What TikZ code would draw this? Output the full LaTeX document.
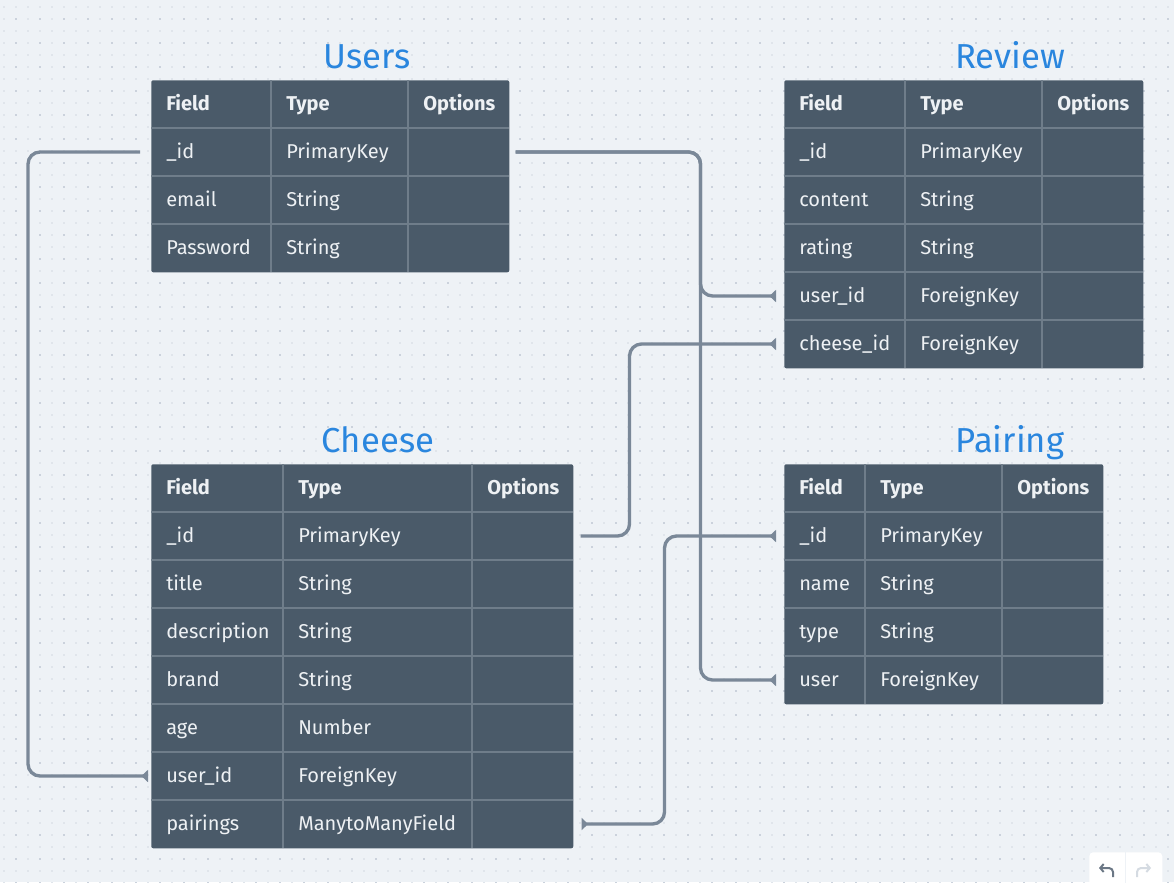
\documentclass[tikz,border=0pt]{standalone}
\usepackage{fontspec}
\setmainfont{Fira Sans}
\usetikzlibrary{arrows.meta,calc,positioning}
\definecolor{canvas}{HTML}{EEF2F6}
\definecolor{dotdark}{HTML}{CBD2DC}
\definecolor{dotlight}{HTML}{E0E5EB}
\definecolor{tablebg}{HTML}{4A5A69}
\definecolor{gridc}{HTML}{6F7D8A}
\definecolor{cellt}{HTML}{EEF1F4}
\definecolor{titlec}{HTML}{2A86DE}
\definecolor{linkc}{HTML}{7A8898}
\definecolor{iconc}{HTML}{6B7785}
\definecolor{iconoff}{HTML}{D5DBE2}
\tikzset{%
	table/.style = {fill=tablebg, rounded corners=1.5pt, anchor=north west, inner sep=0pt}, % table body
	rule/.style  = {draw=gridc, line width=1.5pt},
	head/.style  = {anchor=west, inner sep=0pt, text height=10.3pt, text depth=0pt, text=cellt, font=\bfseries\fontsize{15}{17}\selectfont},
	cell/.style  = {anchor=west, inner sep=0pt, text height=10.3pt, text depth=0pt, text=cellt, font=\fontsize{15}{17}\selectfont},
	title/.style = {inner sep=0pt, text height=17.9pt, text depth=0pt, text=titlec, font=\fontsize{26}{30}\selectfont},
	link/.style  = {draw=linkc, line width=2.5pt, rounded corners=9pt},
	crow/.style  = {-{Triangle[reversed,width=9pt,length=5pt]}},
	crows/.style = {{Triangle[reversed,width=9pt,length=5pt]}-{Triangle[reversed,width=9pt,length=5pt]}},
}

\begin{document}
\begin{tikzpicture}[x=0.75pt, y=-0.75pt]
	\useasboundingbox (0,0) rectangle (1174,882);
	\fill[canvas] (0,0) rectangle (1174,882);
	% dotted canvas
	\foreach \i in {0,...,97}
		\foreach \j in {0,...,73}
			\fill[dotlight] ({3+12*\i},{6+12*\j}) rectangle ++(2,2);
	\foreach \i in {0,...,48}
		\foreach \j in {0,...,36}
			\fill[dotdark] ({15+24*\i},{18+24*\j}) rectangle ++(2,2);

	% Users
	\node[title] (users-title) at (367,57) {Users};
	\node[table, minimum width=268.5pt, minimum height=144pt] (users) at (151,80) {};
	\foreach \y in {128,176,224} \draw[rule] (151,\y) -- (509,\y);
	\foreach \x in {271,408} \draw[rule] (\x,80) -- (\x,272);
	\node[head] (users-h1) at (166,104) {Field};
	\node[head] (users-h2) at (286,104) {Type};
	\node[head] (users-h3) at (423,104) {Options};
	\foreach \f/\t [count=\i] in {\_id/PrimaryKey, email/String, Password/String} {
		\node[cell] (users-f\i) at (166,{104+48*\i}) {\f};
		\node[cell] (users-t\i) at (286,{104+48*\i}) {\t};
	}

	% Review
	\node[title] (review-title) at (1010,57) {Review};
	\node[table, minimum width=269.25pt, minimum height=216pt] (review) at (784,80) {};
	\foreach \y in {128,176,224,272,320} \draw[rule] (784,\y) -- (1143,\y);
	\foreach \x in {905,1042} \draw[rule] (\x,80) -- (\x,368);
	\node[head] (review-h1) at (799,104) {Field};
	\node[head] (review-h2) at (920,104) {Type};
	\node[head] (review-h3) at (1057,104) {Options};
	\foreach \f/\t [count=\i] in {\_id/PrimaryKey, content/String, rating/String, user\_id/ForeignKey, cheese\_id/ForeignKey} {
		\node[cell] (review-f\i) at (799,{104+48*\i}) {\f};
		\node[cell] (review-t\i) at (920,{104+48*\i}) {\t};
	}

	% Cheese
	\node[title] (cheese-title) at (378,441) {Cheese};
	\node[table, minimum width=316.5pt, minimum height=288pt] (cheese) at (151,464) {};
	\foreach \y in {512,560,608,656,704,752,800} \draw[rule] (151,\y) -- (573,\y);
	\foreach \x in {283,472} \draw[rule] (\x,464) -- (\x,848);
	\node[head] (cheese-h1) at (166,488) {Field};
	\node[head] (cheese-h2) at (298,488) {Type};
	\node[head] (cheese-h3) at (487,488) {Options};
	\foreach \f/\t [count=\i] in {\_id/PrimaryKey, title/String, description/String, brand/String, age/Number, user\_id/ForeignKey, pairings/ManytoManyField} {
		\node[cell] (cheese-f\i) at (166,{488+48*\i}) {\f};
		\node[cell] (cheese-t\i) at (298,{488+48*\i}) {\t};
	}

	% Pairing
	\node[title] (pairing-title) at (1010,441) {Pairing};
	\node[table, minimum width=239.25pt, minimum height=180pt] (pairing) at (784,464) {};
	\foreach \y in {512,560,608,656} \draw[rule] (784,\y) -- (1103,\y);
	\foreach \x in {865,1002} \draw[rule] (\x,464) -- (\x,704);
	\node[head] (pairing-h1) at (799,488) {Field};
	\node[head] (pairing-h2) at (880,488) {Type};
	\node[head] (pairing-h3) at (1017,488) {Options};
	\foreach \f/\t [count=\i] in {\_id/PrimaryKey, name/String, type/String, user/ForeignKey} {
		\node[cell] (pairing-f\i) at (799,{488+48*\i}) {\f};
		\node[cell] (pairing-t\i) at (880,{488+48*\i}) {\t};
	}

	% relations
	\draw[link, crow] ($(users.west |- users-f1)+(-11,0)$) -- ++(-112,0) |- ($(cheese.west |- cheese-f6)+(-3,0)$);
	\draw[link, crow] ($(users.east |- users-f1)+(6,0)$) -- ++(185,0) |- ($(review.west |- review-f4)+(-8,0)$);
	\draw[link, crow] ($(users.east |- users-f1)+(6,0)$) -- ++(185,0) |- ($(pairing.west |- pairing-f4)+(-8,0)$);
	\draw[link, crow] ($(cheese.east |- cheese-f1)+(7,0)$) -- ++(49,0) |- ($(review.west |- review-f5)+(-8,0)$);
	\draw[link, crows] ($(cheese.east |- cheese-f7)+(8,0)$) -- ++(83,0) |- ($(pairing.west |- pairing-f1)+(-8,0)$);

	% undo / redo
	\node[fill=white, rounded corners=3pt, anchor=north west, minimum width=54.75pt, minimum height=30pt, inner sep=0pt] (history) at (1089,852) {};
	\draw[draw=canvas, line width=0.75pt] (history.north) -- (history.south);
	\draw[draw=iconc, line width=1.5pt, rounded corners=3pt, -{Straight Barb[length=2.5pt,width=6pt]}] (1113,877) -- (1113,868) -- (1099,868);
	\draw[draw=iconoff, line width=1.5pt, rounded corners=3pt, -{Straight Barb[length=2.5pt,width=6pt]}] (1137,877) -- (1137,868) -- (1151,868);
\end{tikzpicture}
\end{document}
